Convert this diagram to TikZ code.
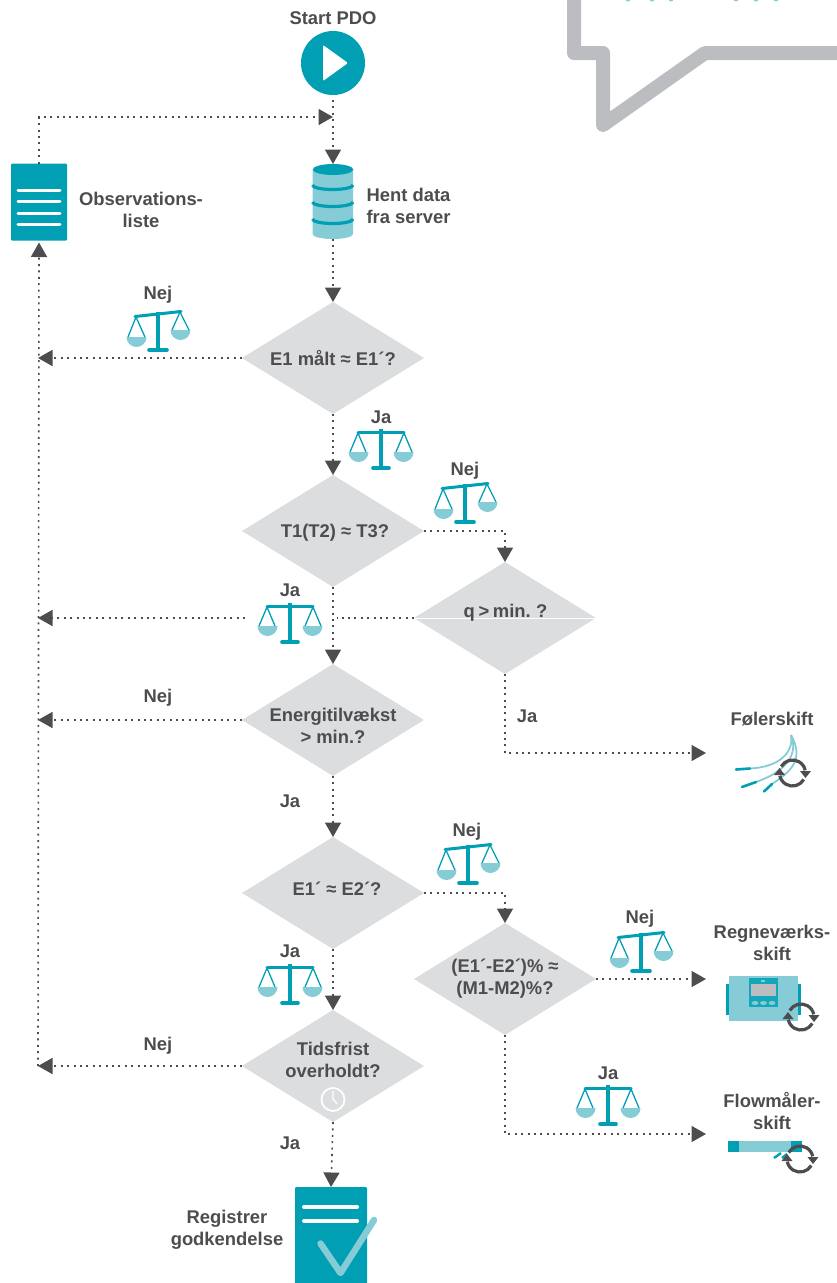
\documentclass[tikz,border=0pt]{standalone}
\usepackage{fontspec}
\setmainfont{Liberation Sans}
\usetikzlibrary{arrows.meta,shapes.geometric}
\definecolor{ink}{HTML}{4D4D4F}
\definecolor{teal}{HTML}{009FB4}
\definecolor{pale}{HTML}{85CCD6}
\definecolor{dia}{HTML}{DCDDDE}
\definecolor{bubble}{HTML}{BCBDC0}
\tikzset{
  txt/.style={font=\fontsize{18.4}{22}\selectfont\bfseries,text=ink,align=center,inner sep=0pt,outer sep=0pt},
  decision/.style={diamond,fill=dia,aspect=1.625,minimum width=182pt,minimum height=112pt,inner sep=0pt,outer sep=0pt},
  plainconn/.style={draw=ink,line width=1.6pt,dash pattern=on 2pt off 4.4pt},
  conn/.style={plainconn,-{Triangle[length=14.5pt,width=16pt,fill=ink]}},
  box/.style={inner sep=0pt,outer sep=0pt},
  pics/scaleflat/.style={code={
    \draw[teal,line width=1.3pt] (-23,4) -- (-31,23) (-23,4) -- (-15,23) (23,4) -- (15,23) (23,4) -- (31,23);
    \fill[pale] (-32.5,23) arc[start angle=180,end angle=0,radius=10] -- cycle;
    \fill[pale] (12.5,23) arc[start angle=180,end angle=0,radius=10] -- cycle;
    \draw[teal,line width=3pt,line cap=round] (-23,3.5) -- (23,3.5);
    \draw[teal,line width=3.4pt] (0,-0.5) -- (0,39);
    \draw[teal,line width=3.6pt,line cap=round] (-8,39) -- (8,39);
  }},
  pics/scaletilt/.style={code={
    \draw[teal,line width=1.3pt] (-22,5) -- (-30,25) (-22,5) -- (-13,25) (22,0) -- (14,18) (22,0) -- (31,18);
    \fill[pale] (-31.5,25) arc[start angle=180,end angle=0,radius=10] -- cycle;
    \fill[pale] (12.5,18) arc[start angle=180,end angle=0,radius=10] -- cycle;
    \draw[teal,line width=3pt,line cap=round] (-23,4.5) -- (23,-0.5);
    \draw[teal,line width=3.4pt] (0,0) -- (0,38);
    \draw[teal,line width=3.6pt,line cap=round] (-9,38) -- (9,38);
  }},
  pics/syncmark/.style={code={
    \draw[ink,line width=3.2pt] (-150:13) arc[start angle=-150,end angle=-12,radius=13];
    \fill[ink] (7.5,-2) -- (18.5,-2) -- (13,5) -- cycle;
    \draw[ink,line width=3.2pt] (30:13) arc[start angle=30,end angle=168,radius=13];
    \fill[ink] (-7.5,2) -- (-18.5,2) -- (-13,-5) -- cycle;
  }}
}
\begin{document}
\begin{tikzpicture}[x=1pt,y=-1pt]
\useasboundingbox (0,0) rectangle (837,1283);
\clip (0,0) rectangle (837,1283);
% speech bubble
\draw[bubble,line width=14pt,line join=round] (574,-20) -- (574,53) -- (603,53) -- (603,125) -- (705,53) -- (860,53);
\foreach \px in {628,652,671,736,756,776}{\fill[pale] (\px,-1) circle[radius=2.5];}
% diamonds
\node[decision] (d1) at (333,358) {};
\node[decision] (d2) at (333,531) {};
\node[decision] (d3) at (505,618) {};
\node[decision] (d4) at (333,720) {};
\node[decision] (d5) at (333,893) {};
\node[decision] (d6) at (505,979) {};
\node[decision] (d7) at (333,1066) {};
\draw[white,line width=0.9pt] (d3.west) -- (d3.east);
\node[txt] (t1) at (333,358) {E1 målt ≈ E1´?};
\node[txt] (t2) at (335,532.5) {T1(T2) ≈ T3?};
\node[txt] (t3) at (505.5,613) {\spaceskip=3.6pt q > min. ?};
\node[txt] (t4) at (333,726) {Energitilvækst\\> min.?};
\node[txt] (t5) at (337,888.5) {E1´ ≈ E2´?};
\node[txt] (t6) at (505,978.5) {(E1´-E2´)\% ≈\\(M1-M2)\%?};
\node[txt] (t7) at (333,1060) {Tidsfrist\\overholdt?};
% clock
\draw[white,line width=1.8pt] (333,1099.5) circle[radius=11.5];
\draw[white,line width=1.2pt] (333,1091) -- (333,1099) -- (337,1104);
% start
\node[circle,fill=teal,minimum size=64pt,box] (start) at (333,63) {};
\fill[white,rounded corners=1pt] (323,45) -- (348,63) -- (323,81) -- cycle;
\node[txt] (tstart) at (333,18) {Start PDO};
% observation list
\node[box,fill=teal,minimum width=56pt,minimum height=77pt,rounded corners=1pt] (obs) at (39,202) {};
\foreach \py in {190,201.5,213,224}{\draw[white,line width=3pt,line cap=round] (18,\py) -- (60,\py);}
\node[txt] (tobs) at (141,210) {Observations-\\liste};
% database
\node[box,minimum width=41pt,minimum height=75pt] (db) at (333,201.5) {};
\fill[pale] (312.5,170) -- (312.5,234) arc[start angle=180,end angle=0,x radius=20.25,y radius=5] -- (353,170) -- cycle;
\foreach \py in {185,202,219}{\draw[teal,line width=3.2pt] (312.5,\py) arc[start angle=180,end angle=0,x radius=20.25,y radius=4.5];}
\fill[teal] (333,169.5) ellipse[x radius=20.25,y radius=5.5];
\node[txt,align=left] (tdb) at (408.5,206) {Hent data\\fra server};
% targets
\coordinate (j) at (333,117);
\coordinate (l1) at (38,358);
\coordinate (l3) at (38,618);
\coordinate (l4) at (38,720);
\coordinate (l7) at (38,1066);
\coordinate (gapl) at (245,618);
\coordinate (gapr) at (337,618);
\coordinate (cfoler) at (706,753);
\coordinate (cregn) at (706,979);
\coordinate (cflow) at (706,1134);
% check sheet
\node[box,fill=teal,minimum width=72pt,minimum height=110pt,rounded corners=1pt] (reg) at (331,1242) {};
\draw[white,line width=4pt,line cap=round] (304,1207) -- (357,1207) (304,1221) -- (357,1221);
\draw[pale,line width=6.5pt,line cap=round,line join=round] (320.5,1243.5) -- (340.5,1273) -- (374,1220);
\node[txt] (treg) at (227,1230) {Registrer\\godkendelse};
% connectors
\draw[conn,shorten <=5pt] (start.south) -- (db.north);
\draw[conn] (obs.north) |- (j);
\draw[conn] (db.south) -- (d1.north);
\draw[conn] (d1.west) -- (l1);
\draw[conn] (d1.south) -- (d2.north);
\draw[conn] (d2.east) -| (d3.north);
\draw[conn] (d2.south) -- (d4.north);
\draw[plainconn] (d3.west) -- (gapr);
\draw[conn] (gapl) -- (l3);
\draw[conn] (d3.south) |- (cfoler);
\draw[conn] (d4.west) -- (l4);
\draw[conn] (d4.south) -- (d5.north);
\draw[conn] (d5.east) -| (d6.north);
\draw[conn] (d5.south) -- (d7.north);
\draw[conn] (d6.east) -- (cregn);
\draw[conn] (d6.south) |- (cflow);
\draw[conn] (d7.west) -- (l7);
\draw[conn] (d7.south) -- (reg.north);
\draw[conn,shorten >=2pt] (l7) -- (obs.south);
% scales
\pic at (158,312) {scaletilt};
\pic at (381,429) {scaleflat};
\pic at (465,484) {scaletilt};
\pic at (290,603) {scaleflat};
\pic at (468,845) {scaletilt};
\pic at (290,964) {scaleflat};
\pic at (641,933) {scaletilt};
\pic at (608,1085) {scaleflat};
% labels
\node[txt] (a1) at (158,295) {Nej};
\node[txt] (a2) at (381,417) {Ja};
\node[txt] (a3) at (465,471) {Nej};
\node[txt] (a4) at (290,590) {Ja};
\node[txt] (a5) at (158,698) {Nej};
\node[txt] (a6) at (527,716) {Ja};
\node[txt] (a7) at (290,801) {Ja};
\node[txt] (a8) at (467,832) {Nej};
\node[txt] (a9) at (290,951) {Ja};
\node[txt] (a10) at (640,919) {Nej};
\node[txt] (a11) at (608,1073) {Ja};
\node[txt] (a12) at (158,1046) {Nej};
\node[txt] (a13) at (290,1143) {Ja};
% sensor
\node[txt] (tf) at (772,719) {Følerskift};
\draw[pale,line width=1.8pt] (791,735) .. controls (794,752) and (780,767) .. (750,768.5);
\draw[pale,line width=1.8pt] (791,735) .. controls (799,755) and (785,772) .. (756,782);
\draw[pale,line width=1.8pt] (791,735) .. controls (805,760) and (790,772) .. (772,784);
\draw[teal,line width=2.6pt,line cap=round] (736,769.5) -- (750,768.5) (742,787) -- (756,782) (764,791.5) -- (772,784);
\pic at (792.5,773) {syncmark};
% calculator
\node[txt] (tr) at (772,943) {Regneværks-\\skift};
\fill[teal] (726,984) rectangle (801,1015);
\fill[pale] (729,976) rectangle (798,1021);
\fill[teal!85!pale] (749,978) rectangle (778,1007);
\fill[bubble] (751,984) rectangle (776,996);
\fill[pale] (761,979.5) rectangle (765,981.5);
\foreach \px in {755,763.5,772}{\fill[pale] (\px,1003) ellipse[x radius=3.5,y radius=2];}
\pic at (801,1017) {syncmark};
% flow meter
\node[txt] (tm) at (772,1111) {Flowmåler-\\skift};
\fill[teal] (728,1141) rectangle (802,1152);
\fill[pale] (739,1141) rectangle (791,1152);
\draw[teal,line width=2.4pt] (774,1158) -- (781,1153) (782,1158) -- (787,1154);
\pic at (800,1159) {syncmark};
\end{tikzpicture}
\end{document}
